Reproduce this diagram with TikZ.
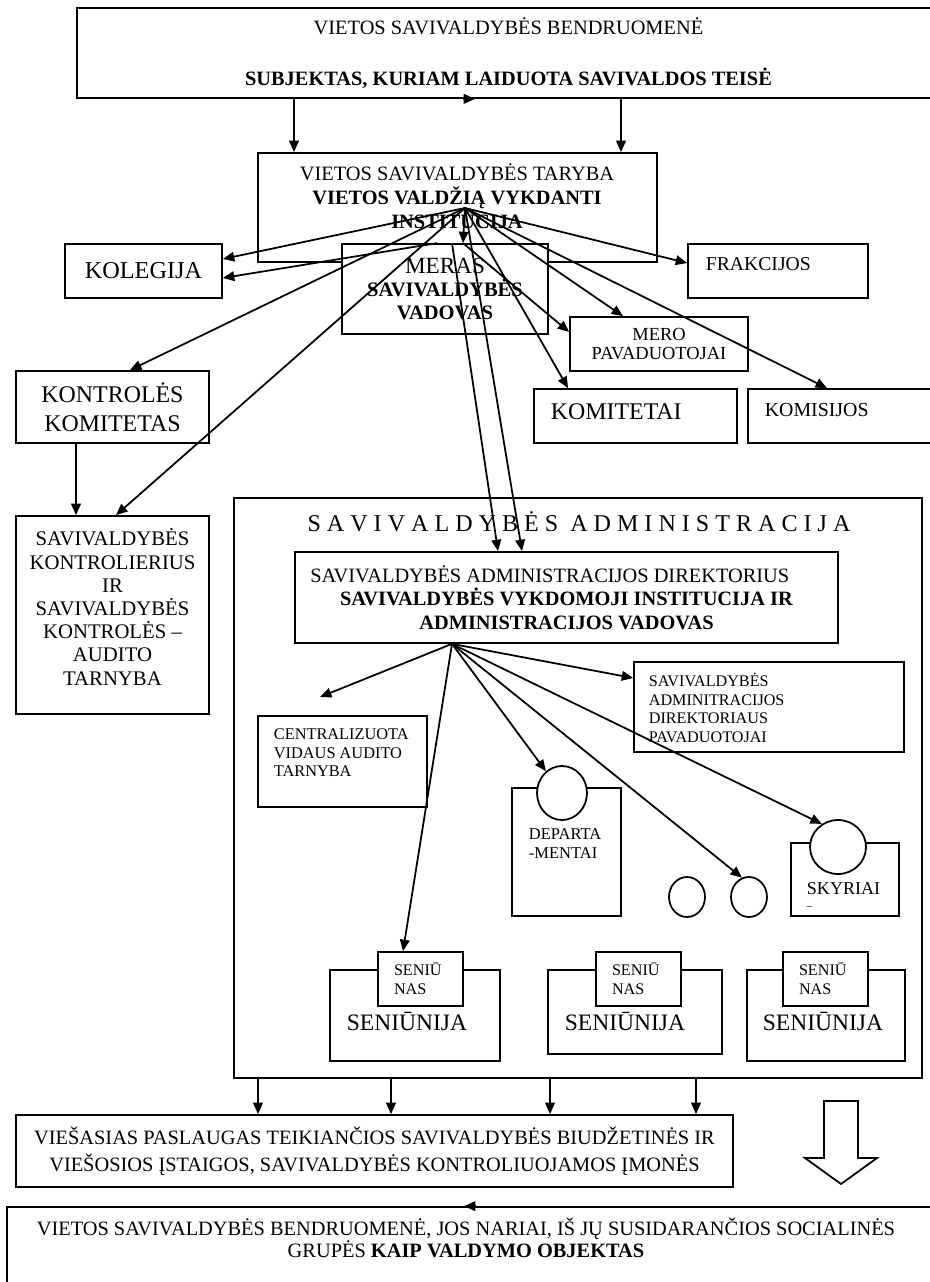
\documentclass[tikz,border=0pt]{standalone}
\usepackage{fontspec}
\setmainfont{Liberation Serif}
\usetikzlibrary{positioning,arrows.meta,shapes.geometric}
\newcommand{\fs}[2]{\fontsize{#1}{#2}\selectfont}

\begin{document}
\begin{tikzpicture}[x=0.02cm, y=-0.02cm, line width=1pt,
				>={Triangle[length=6.5pt,width=5.5pt]},
				box/.style={draw, rectangle, inner sep=0pt},
				txt/.style={inner sep=0pt, align=center},
				ltxt/.style={inner sep=0pt, align=left, anchor=west},
				circ/.style={draw, ellipse, fill=white, inner sep=0pt},
				senbox/.style={draw, fill=white, inner ysep=0pt, inner xsep=0.32cm, text width=1.06cm, minimum height=1.08cm, align=left, font=\fs{9.2}{10.8}}]
	\path[use as bounding box, clip] (0,0) rectangle (930,1282);

	\node (Community) [box, txt, minimum width=17.26cm, minimum height=1.8cm, font=\fs{11.6}{13}] at (508.5,53)
		{VIETOS SAVIVALDYBĖS BENDRUOMENĖ\\[16pt] \textbf{SUBJEKTAS, KURIAM LAIDUOTA SAVIVALDOS TEISĖ}};

	\node (Taryba) [box, minimum width=7.98cm, minimum height=2.18cm] at (457.5,207.5) {};
	\node (TarybaText) [txt, font=\fs{11.6}{13.6}] at (457,196)
		{VIETOS SAVIVALDYBĖS TARYBA\\ \textbf{VIETOS VALDŽIĄ VYKDANTI}\\ \textbf{INSTITUCIJA}};
	\node (Meras) [box, txt, fill=white, minimum width=4.12cm, minimum height=1.8cm, font=\fs{11.7}{13.3}] at (445,289)
		{{\fs{13.2}{13.3}MERAS}\\ \textbf{SAVIVALDYBĖS}\\ \textbf{VADOVAS}};

	\node (Kolegija) [box, minimum width=3.14cm, minimum height=1.08cm, font=\fs{13.8}{15}] at (143.5,271) {KOLEGIJA};
	\node (Frakcijos) [box, minimum width=3.6cm, minimum height=1.08cm] at (778,271) {};
	\node (FrakcijosText) [ltxt, font=\fs{11.2}{13}] at (705,264) {FRAKCIJOS};
	\node (MeroPav) [box, txt, minimum width=3.56cm, minimum height=1.08cm, font=\fs{10.5}{10.8}] at (659,344) {MERO\\PAVADUOTOJAI};
	\node (Komitetai) [box, minimum width=4.06cm, minimum height=1.08cm] at (635.5,416) {};
	\node (KomitetaiText) [ltxt, font=\fs{13.6}{15}] at (550,412) {KOMITETAI};
	\node (Komisijos) [box, minimum width=3.84cm, minimum height=1.08cm] at (844,416) {};
	\node (KomisijosText) [ltxt, font=\fs{11.3}{13}] at (764,410) {KOMISIJOS};

	\node (KontrolesKom) [box, txt, minimum width=3.86cm, minimum height=1.44cm, font=\fs{13.6}{16.4}] at (112.5,407) {KONTROLĖS\\KOMITETAS};
	\node (Kontrolierius) [box, minimum width=3.86cm, minimum height=3.96cm] at (112.5,615) {};
	\node (KontroleriusText) [txt, font=\fs{11.8}{13.2}] at (112.5,607)
		{SAVIVALDYBĖS\\KONTROLIERIUS\\IR\\SAVIVALDYBĖS\\KONTROLĖS –\\AUDITO\\TARNYBA};

	\node (Admin) [box, minimum width=13.76cm, minimum height=11.6cm] at (578,788) {};
	\node (AdminTitle) [txt, font=\fs{13.7}{15}] at (579,522) {S A V I V A L D Y B Ė S\enspace A D M I N I S T R A C I J A};
	\node (Director) [box, txt, minimum width=10.86cm, minimum height=1.82cm, font=\fs{11.6}{13.3}] at (566.5,597.5)
		{SAVIVALDYBĖS ADMINISTRACIJOS DIREKTORIUS\hspace*{19pt}\\ \textbf{SAVIVALDYBĖS VYKDOMOJI INSTITUCIJA IR}\\ \textbf{ADMINISTRACIJOS VADOVAS}};

	\node (Centralizuota) [box, minimum width=3.38cm, minimum height=1.82cm] at (342.5,761.5) {};
	\node (CentralizuotaText) [ltxt, font=\fs{9.3}{10.5}] at (273,753) {CENTRALIZUOTA\\VIDAUS AUDITO\\TARNYBA};
	\node (Deputy) [box, minimum width=5.4cm, minimum height=1.8cm] at (769,707) {};
	\node (DeputyText) [ltxt, font=\fs{9.2}{10.6}] at (648,708) {SAVIVALDYBĖS\\ADMINITRACIJOS\\DIREKTORIAUS\\PAVADUOTOJAI};

	\node (Departamentai) [box, minimum width=2.18cm, minimum height=2.56cm] at (566.5,852) {};
	\node (DepCircle) [circ, minimum width=1cm, minimum height=1.08cm] at (562,793) {};
	\node (DepText) [ltxt, font=\fs{9.4}{10.8}] at (528,843.5) {DEPARTA\\-MENTAI};
	\node (Circ1) [circ, minimum width=0.72cm, minimum height=0.8cm] at (687,897) {};
	\node (Circ2) [circ, minimum width=0.72cm, minimum height=0.8cm] at (749,897) {};
	\node (Skyriai) [box, minimum width=2.16cm, minimum height=1.46cm] at (845,879.5) {};
	\node (SkyCircle) [circ, minimum width=1.12cm, minimum height=1.08cm] at (838,847) {};
	\node (SkyText) [ltxt, font=\fs{10.3}{12}] at (806,896) {SKYRIAI\\[-3pt]{\fs{6}{6}–}};

	\node (Sen1) [box, minimum width=3.4cm, minimum height=1.82cm] at (415,1015.5) {};
	\node (Seniunas1) [senbox] at (420.5,979) {SENIŪ\\NAS};
	\node (Sen1Text) [txt, font=\fs{13.4}{15}] at (407,1021) {SENIŪNIJA};
	\node (Sen2) [box, minimum width=3.48cm, minimum height=1.68cm] at (635,1012) {};
	\node (Seniunas2) [senbox] at (638.5,979) {SENIŪ\\NAS};
	\node (Sen2Text) [txt, font=\fs{13.4}{15}] at (625,1021) {SENIŪNIJA};
	\node (Sen3) [box, minimum width=3.16cm, minimum height=1.82cm] at (826,1015.5) {};
	\node (Seniunas3) [senbox] at (825.5,979) {SENIŪ\\NAS};
	\node (Sen3Text) [txt, font=\fs{13.4}{15}] at (823,1021) {SENIŪNIJA};

	\node (Services) [box, txt, minimum width=14.34cm, minimum height=1.44cm, font=\fs{11.6}{15.5}] at (374.5,1151)
		{VIEŠASIAS PASLAUGAS TEIKIANČIOS SAVIVALDYBĖS BIUDŽETINĖS IR\\VIEŠOSIOS ĮSTAIGOS, SAVIVALDYBĖS KONTROLIUOJAMOS ĮMONĖS};
	\node (Bottom) [box, minimum width=18.66cm, minimum height=1.7cm] at (473.5,1249.5) {};
	\node (BottomText) [txt, font=\fs{11.6}{12.5}] at (466,1238)
		{VIETOS SAVIVALDYBĖS BENDRUOMENĖ, JOS NARIAI, IŠ JŲ SUSIDARANČIOS SOCIALINĖS\\GRUPĖS \textbf{KAIP VALDYMO OBJEKTAS}};

	\draw (824,1101) -- (858,1101) -- (858,1158) -- (877,1158) -- (841,1184) -- (805,1158) -- (824,1158) -- cycle;

	\draw[->] (Community.south -| 463,0) -- (Community.south -| 475,0);
	\draw[->] (Bottom.north -| 476,0) -- (Bottom.north -| 464,0);
	\draw[->] (Community.south -| 294,0) -- (Taryba.north -| 294,0);
	\draw[->] (Community.south -| 621,0) -- (Taryba.north -| 621,0);

	\coordinate (TarybaHub) at (465,208);
	\draw[->] (TarybaHub) -- (Kolegija.east |- 0,259);
	\draw[->] (Meras.north -| 437,0) -- (Kolegija.east |- 0,278);
	\draw[->] (TarybaHub) -- (KontrolesKom.north -| 130,0);
	\draw[->] (TarybaHub) -- (Kontrolierius.north -| 116,0);
	\draw[->] (TarybaHub) -- (Meras.north -| 463,0);
	\draw[->] (Meras.north -| 452,0) -- (Director.north -| 498,0);
	\draw[->] (TarybaHub) -- (Director.north -| 522,0);
	\draw[->] (TarybaHub) -- (Frakcijos.west |- 0,263);
	\draw[->] (TarybaHub) -- (MeroPav.north -| 623,0);
	\draw[->] (Meras.north -| 463,0) -- (MeroPav.west |- 0,332);
	\draw[->] (TarybaHub) -- (Komitetai.north -| 568,0);
	\draw[->] (TarybaHub) -- (Komisijos.north -| 827,0);
	\draw[->] (KontrolesKom.south -| 76,0) -- (Kontrolierius.north -| 76,0);

	\coordinate (DirHub) at (Director.south -| 452,0);
	\coordinate (CentrTip) at (320,697);
	\draw[->] (DirHub) -- (CentrTip);
	\draw[->] (DirHub) -- (Seniunas1.north -| 403,0);
	\draw[->] (DirHub) -- (DepCircle);
	\draw[->] (DirHub) -- (Circ2.110);
	\draw[->] (DirHub) -- (SkyCircle.125);
	\draw[->] (DirHub) -- (Deputy.west |- 0,678);

	\draw[->] (Admin.south -| 258,0) -- (Services.north -| 258,0);
	\draw[->] (Admin.south -| 391,0) -- (Services.north -| 391,0);
	\draw[->] (Admin.south -| 550,0) -- (Services.north -| 550,0);
	\draw[->] (Admin.south -| 696,0) -- (Services.north -| 696,0);
\end{tikzpicture}
\end{document}
